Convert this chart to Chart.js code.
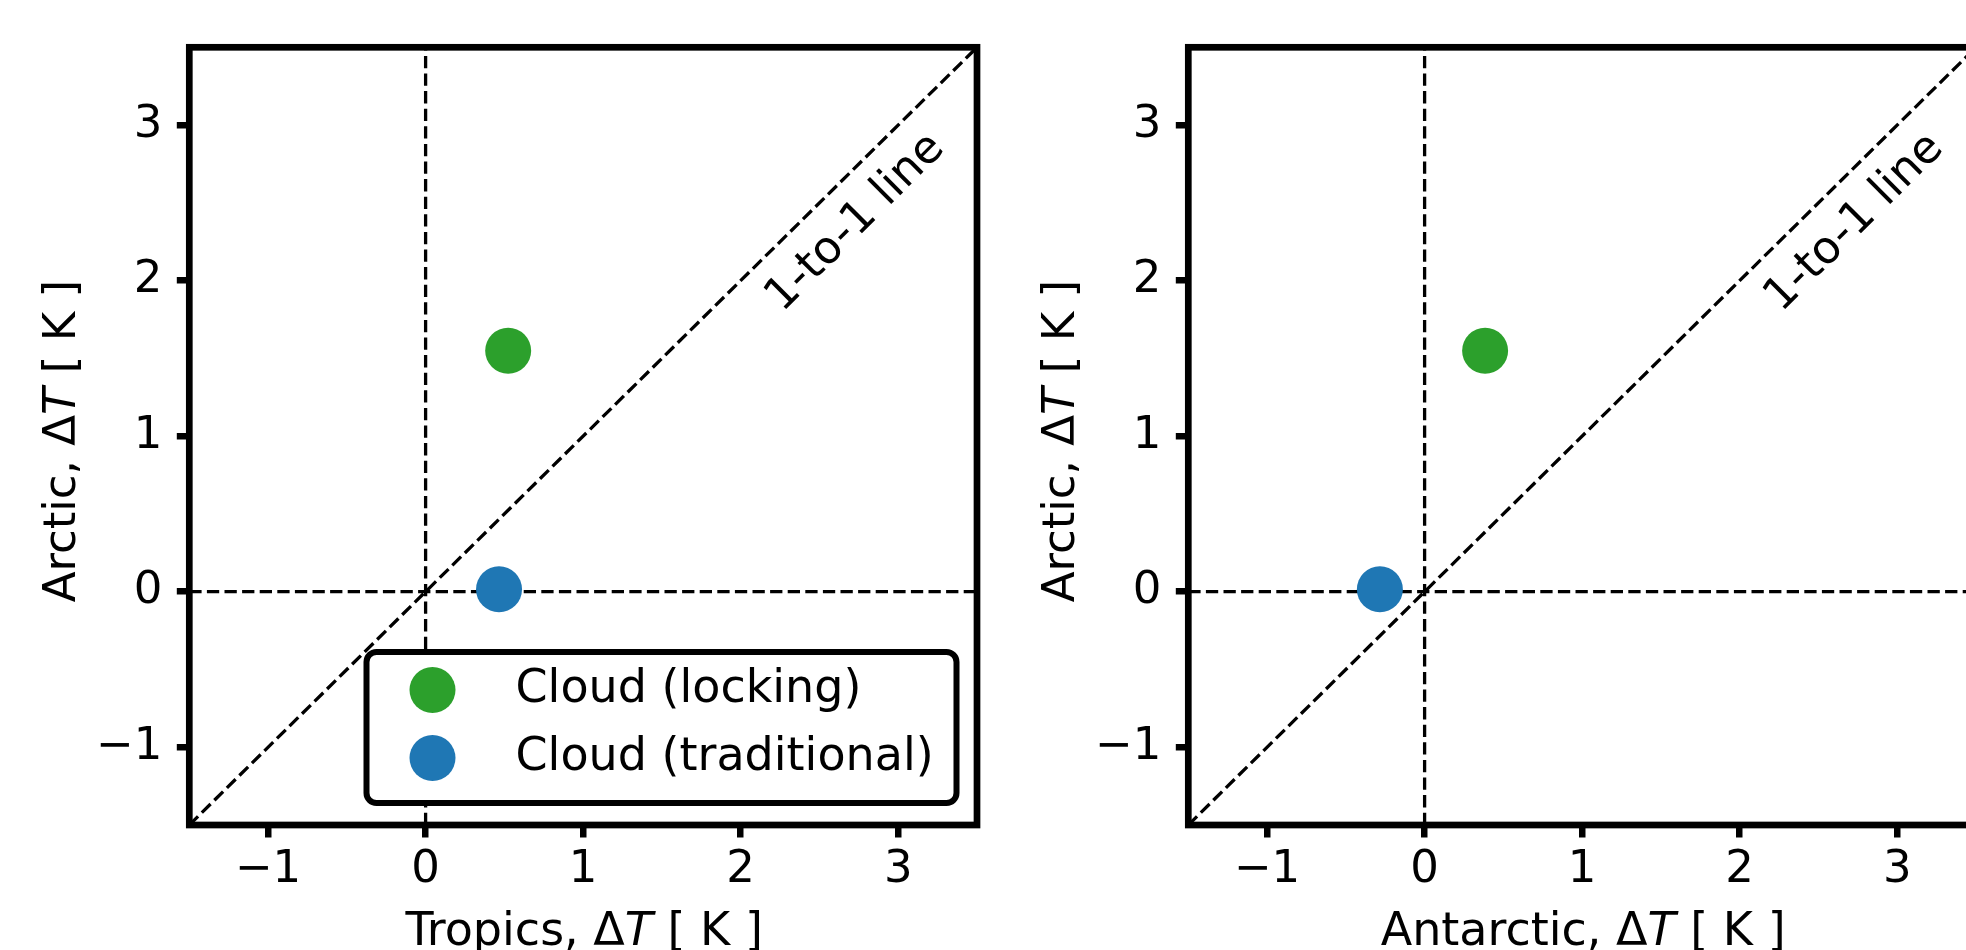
<!DOCTYPE html>
<html>
<head>
<meta charset="utf-8">
<script src="https://cdn.jsdelivr.net/npm/chart.js@4.4.0/dist/chart.umd.min.js"></script>
<style>
    html, body { margin: 0; padding: 0; background: #fff; overflow: hidden; width: 1966px; height: 950px; }
    canvas { position: absolute; top: 0; }
    #graficoTropicos { left: 0; }
    #graficoAntartico { left: 999px; }
</style>
</head>
<body>
<canvas id="graficoTropicos" width="1000" height="950"></canvas>
<canvas id="graficoAntartico" width="1000" height="950"></canvas>
<script>
// series: locking, traditional
const nombres = ["Cloud (locking)", "Cloud (traditional)"]
const colores = ["#2ca02c", "#1f77b4"]
const articoY = [1.549, 0.015]
const tropicosX = [0.524, 0.466]
const antarticoX = [0.384, -0.284]

// ejes
const rango = [-1.5, 3.5]
const marcas = [-1, 0, 1, 2, 3]
const textoLinea = "1-to-1 line"
const posTexto = [2.73, 2.37]

const fuente = "'DejaVu Sans'"

function formato (v) {
    return v < 0 ? "\u2212" + Math.abs(v) : String(v)
}

// texto con partes normal / italica
function textoMixto (ctx, partes, x, y, angulo, tam) {
    ctx.save()
    ctx.translate(x, y)
    ctx.rotate(angulo)
    ctx.fillStyle = "#000"
    ctx.textBaseline = "alphabetic"
    ctx.textAlign = "left"
    let total = 0
    partes.forEach(p => {
        ctx.font = `${p[1] ? "italic " : ""}${tam}px ${fuente}`
        total += ctx.measureText(p[0]).width
    })
    let cx = -total / 2
    partes.forEach(p => {
        ctx.font = `${p[1] ? "italic " : ""}${tam}px ${fuente}`
        ctx.fillText(p[0], cx, 0)
        cx += ctx.measureText(p[0]).width
    })
    ctx.restore()
}

function crearGrafico (id, valoresX, tituloX, conLeyenda) {
    const grafico = document.getElementById(id).getContext("2d")

    const puntos = nombres.map((n, i) => ({
        type: "scatter",
        label: n,
        data: [{ x: valoresX[i], y: articoY[i] }],
        backgroundColor: colores[i],
        borderWidth: 0,
        pointRadius: 23,
    }))

    const guia = data => ({
        type: "scatter",
        label: "",
        data: data,
        showLine: true,
        borderColor: "#000",
        borderWidth: 3.3,
        borderDash: [12.3, 5.3],
        pointRadius: 0,
        fill: false,
    })

    const guias = [
        guia([{ x: rango[0], y: rango[0] }, { x: rango[1], y: rango[1] }]),
        guia([{ x: 0, y: rango[0] }, { x: 0, y: rango[1] }]),
        guia([{ x: rango[0], y: 0 }, { x: rango[1], y: 0 }]),
    ]

    const marco = {
        id: "marco",
        afterDraw (chart) {
            const { ctx, chartArea: a, scales } = chart
            ctx.save()
            ctx.lineWidth = 6.7
            ctx.strokeStyle = "#000"
            ctx.strokeRect(a.left, a.top, a.right - a.left, a.bottom - a.top)
            ctx.restore()

            textoMixto(ctx, [[tituloX, false], ["T", true], [" [ K ]", false]], (a.left + a.right) / 2 + 1, a.bottom + 120, 0, 46)
            textoMixto(ctx, [["Arctic, \u0394", false], ["T", true], [" [ K ]", false]], a.left - 114, (a.top + a.bottom) / 2 + 5, -Math.PI / 2, 45)

            // 1-to-1
            ctx.save()
            ctx.translate(scales.x.getPixelForValue(posTexto[0]), scales.y.getPixelForValue(posTexto[1]))
            ctx.rotate(-Math.PI / 4)
            ctx.font = `45px ${fuente}`
            ctx.fillStyle = "#000"
            ctx.textAlign = "center"
            ctx.textBaseline = "middle"
            ctx.fillText(textoLinea, 0, 0)
            ctx.restore()

            if (!conLeyenda) return
            const ancho = 590, alto = 151
            const x0 = a.right - 20.5 - ancho
            const y0 = a.bottom - 22 - alto
            ctx.save()
            ctx.beginPath()
            ctx.roundRect(x0, y0, ancho, alto, 10)
            ctx.fillStyle = "#fff"
            ctx.fill()
            ctx.lineWidth = 6
            ctx.strokeStyle = "#000"
            ctx.stroke()
            nombres.forEach((n, i) => {
                const fila = y0 + 38 + i * 68
                ctx.beginPath()
                ctx.arc(x0 + 66, fila, 23, 0, Math.PI * 2)
                ctx.fillStyle = colores[i]
                ctx.fill()
                ctx.fillStyle = "#000"
                ctx.font = `46px ${fuente}`
                ctx.textBaseline = "middle"
                ctx.fillText(n, x0 + 149, fila)
            })
            ctx.restore()
        }
    }

    const eje = (extra) => Object.assign({
        type: "linear",
        min: rango[0],
        max: rango[1],
        afterBuildTicks: s => { s.ticks = marcas.map(v => ({ value: v })) },
        ticks: {
            font: { family: fuente, size: 45 },
            color: "#000",
            callback: formato,
            autoSkip: false,
            maxRotation: 0,
        },
        grid: {
            drawOnChartArea: false,
            drawTicks: true,
            tickLength: 12.5,
            lineWidth: 6.5,
            color: "#000",
        },
        border: { display: false },
    }, extra)

    const x = eje({ afterFit: s => { s.height = 125 } })
    x.ticks.padding = 6
    const y = eje({ afterFit: s => { s.width = 189.3 } })
    y.ticks.padding = 14.5

    return new Chart(grafico, {
        type: "scatter",
        data: { datasets: [...puntos, ...guias] },
        options: {
            responsive: false,
            devicePixelRatio: 1,
            animation: false,
            events: [],
            layout: { padding: { top: 47.3, right: 22.5, left: 0, bottom: 0 } },
            plugins: {
                legend: { display: false },
                tooltip: { enabled: false },
                title: { display: false },
            },
            scales: { x: x, y: y },
        },
        plugins: [marco],
    })
}

crearGrafico("graficoTropicos", tropicosX, "Tropics, \u0394", true)
crearGrafico("graficoAntartico", antarticoX, "Antarctic, \u0394", false)
</script>
</body>
</html>
